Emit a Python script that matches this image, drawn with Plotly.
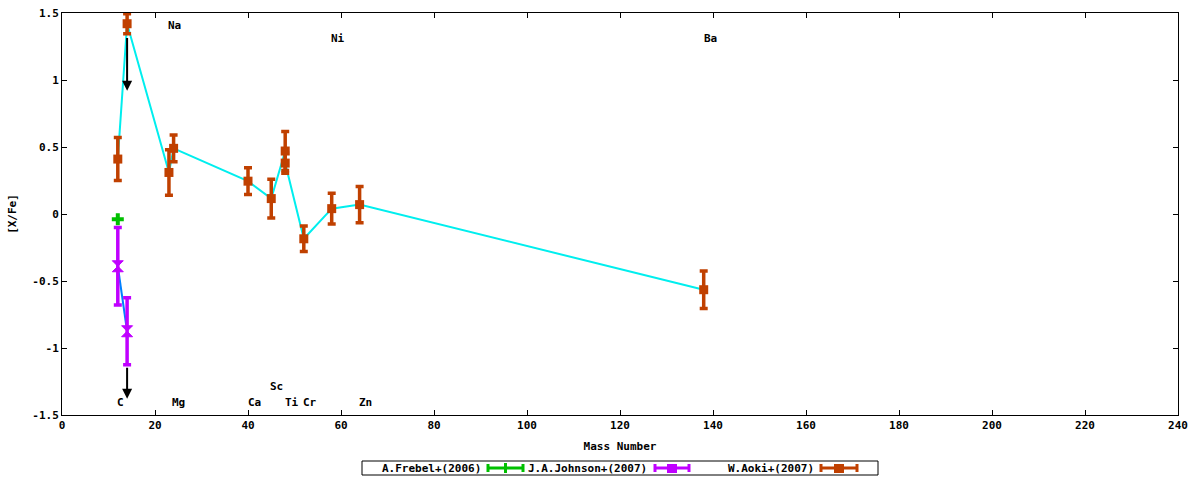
import plotly.graph_objects as go

# W.Aoki+(2007)
aoki_mass = [12, 14, 23, 24, 40, 45, 48, 48, 52, 58, 64, 138]
aoki_xfe = [0.41, 1.42, 0.31, 0.49, 0.245, 0.115, 0.47, 0.38, -0.185, 0.04, 0.07, -0.565]
aoki_err = [0.16, 0.075, 0.17, 0.10, 0.10, 0.145, 0.145, 0.075, 0.095, 0.115, 0.135, 0.14]

# J.A.Johnson+(2007)
johnson_mass = [12, 14]
johnson_xfe = [-0.39, -0.875]
johnson_err = [0.29, 0.25]

# A.Frebel+(2006)
frebel_mass = [12]
frebel_xfe = [-0.04]

# upper limit arrows
limit_mass = [14, 14]
limit_from = [1.325, -1.137]
limit_to = [0.92, -1.378]

# element labels
elem_names = ["C", "Na", "Mg", "Ca", "Sc", "Ti", "Cr", "Zn", "Ni", "Ba"]
elem_x = [11.5, 22.4, 23.3, 39.5, 44.4, 47.5, 51.4, 63.5, 57.5, 137.7]
elem_y = [-1.41, 1.405, -1.41, -1.41, -1.29, -1.41, -1.41, -1.41, 1.313, 1.31]

legend_names = ["A.Frebel+(2006)", "J.A.Johnson+(2007)", "W.Aoki+(2007)"]

y_ticks = [-1.5, -1, -0.5, 0, 0.5, 1, 1.5]
y_ticktext = ["-1.5", "-1", "-0.5", "0", "0.5", "1", "1.5"]
x_ticks = [0, 20, 40, 60, 80, 100, 120, 140, 160, 180, 200, 220, 240]

GREEN = "#00c000"
PURPLE = "#c000ff"
BLUE = "#0080ff"
CYAN = "#00eeee"
BROWN = "#c04000"
FONT = dict(family="DejaVu Sans Mono", size=11, color="black")

W, H = 1200, 480
L, R, T, B = 62, 22, 13, 65
PW, PH = W - L - R, H - T - B


def px(xp):
    return (xp - L) / PW


def py(yp):
    return (H - B - yp) / PH


fig = go.Figure()

fig.add_trace(go.Scatter(x=aoki_mass, y=aoki_xfe, mode="lines",
                         line=dict(color=CYAN, width=2), showlegend=False))
fig.add_trace(go.Scatter(x=johnson_mass, y=johnson_xfe, mode="lines",
                         line=dict(color=BLUE, width=2), showlegend=False))

fig.add_trace(go.Scatter(x=frebel_mass, y=frebel_xfe, mode="markers",
                         marker=dict(symbol="cross", size=10, color=GREEN),
                         showlegend=False))
fig.add_trace(go.Scatter(x=johnson_mass, y=johnson_xfe, mode="markers",
                         marker=dict(symbol="hourglass", size=11, color=PURPLE,
                                     line=dict(color=PURPLE, width=1)),
                         error_y=dict(type="data", array=johnson_err, color=PURPLE,
                                      thickness=3.5, width=4),
                         showlegend=False))
fig.add_trace(go.Scatter(x=aoki_mass, y=aoki_xfe, mode="markers",
                         marker=dict(symbol="square", size=9, color=BROWN),
                         error_y=dict(type="data", array=aoki_err, color=BROWN,
                                      thickness=3.5, width=4),
                         showlegend=False))

# upper limit arrows
for m, y0, y1 in zip(limit_mass, limit_from, limit_to):
    fig.add_annotation(x=m, y=y1, ax=m, ay=y0, xref="x", yref="y",
                       axref="x", ayref="y", text="", showarrow=True,
                       arrowhead=2, arrowsize=1, arrowwidth=2, arrowcolor="black")

# element labels
for name, ex, ey in zip(elem_names, elem_x, elem_y):
    fig.add_annotation(x=ex, y=ey, text="<b>%s</b>" % name, showarrow=False,
                       xanchor="left", yanchor="middle", font=FONT)

# gnuplot style key: text then sample, inside a box
fig.add_shape(type="rect", xref="paper", yref="paper",
              x0=px(362), x1=px(878), y0=py(475), y1=py(461),
              line=dict(color="black", width=1), fillcolor="white")
key_text_end = [483, 649, 816]
key_sample = [(488, 523), (655, 689), (821, 857)]
key_colors = [GREEN, PURPLE, BROWN]
ky = 468
for name, te, (s0, s1), c in zip(legend_names, key_text_end, key_sample, key_colors):
    fig.add_annotation(x=px(te), y=py(ky), xref="paper", yref="paper",
                       text="<b>%s</b>" % name, showarrow=False,
                       xanchor="right", yanchor="middle", font=FONT)
    fig.add_shape(type="line", xref="paper", yref="paper",
                  x0=px(s0), x1=px(s1), y0=py(ky), y1=py(ky),
                  line=dict(color=c, width=3))
    for s in (s0, s1):
        fig.add_shape(type="line", xref="paper", yref="paper",
                      x0=px(s), x1=px(s), y0=py(ky - 4), y1=py(ky + 4),
                      line=dict(color=c, width=3))
    mid = (s0 + s1) / 2
    if c == GREEN:
        fig.add_shape(type="line", xref="paper", yref="paper",
                      x0=px(mid), x1=px(mid), y0=py(ky - 5), y1=py(ky + 5),
                      line=dict(color=c, width=3))
    else:
        fig.add_shape(type="rect", xref="paper", yref="paper",
                      x0=px(mid - 5), x1=px(mid + 5), y0=py(ky - 4), y1=py(ky + 5),
                      line=dict(width=0), fillcolor=c)

axis_common = dict(showline=True, linecolor="black", linewidth=1, mirror="ticks",
                   ticks="inside", ticklen=5, tickcolor="black", showgrid=False,
                   zeroline=False, tickfont=FONT, automargin=False)

fig.update_xaxes(range=[0, 240], tickvals=x_ticks,
                 ticktext=["<b>%d</b>" % v for v in x_ticks],
                 title=dict(text="<b>Mass Number</b>", font=FONT, standoff=11),
                 **axis_common)
fig.update_yaxes(range=[-1.5, 1.5], tickvals=y_ticks,
                 ticktext=["<b>%s</b>" % t for t in y_ticktext],
                 title=dict(text="<b>[X/Fe]</b>", font=FONT, standoff=13),
                 **axis_common)

fig.update_layout(width=W, height=H, margin=dict(l=L, r=R, t=T, b=B),
                  plot_bgcolor="white", paper_bgcolor="white", showlegend=False)

fig.write_html("out.html", config={"displayModeBar": False},
               post_script="document.body.style.margin='0';")
